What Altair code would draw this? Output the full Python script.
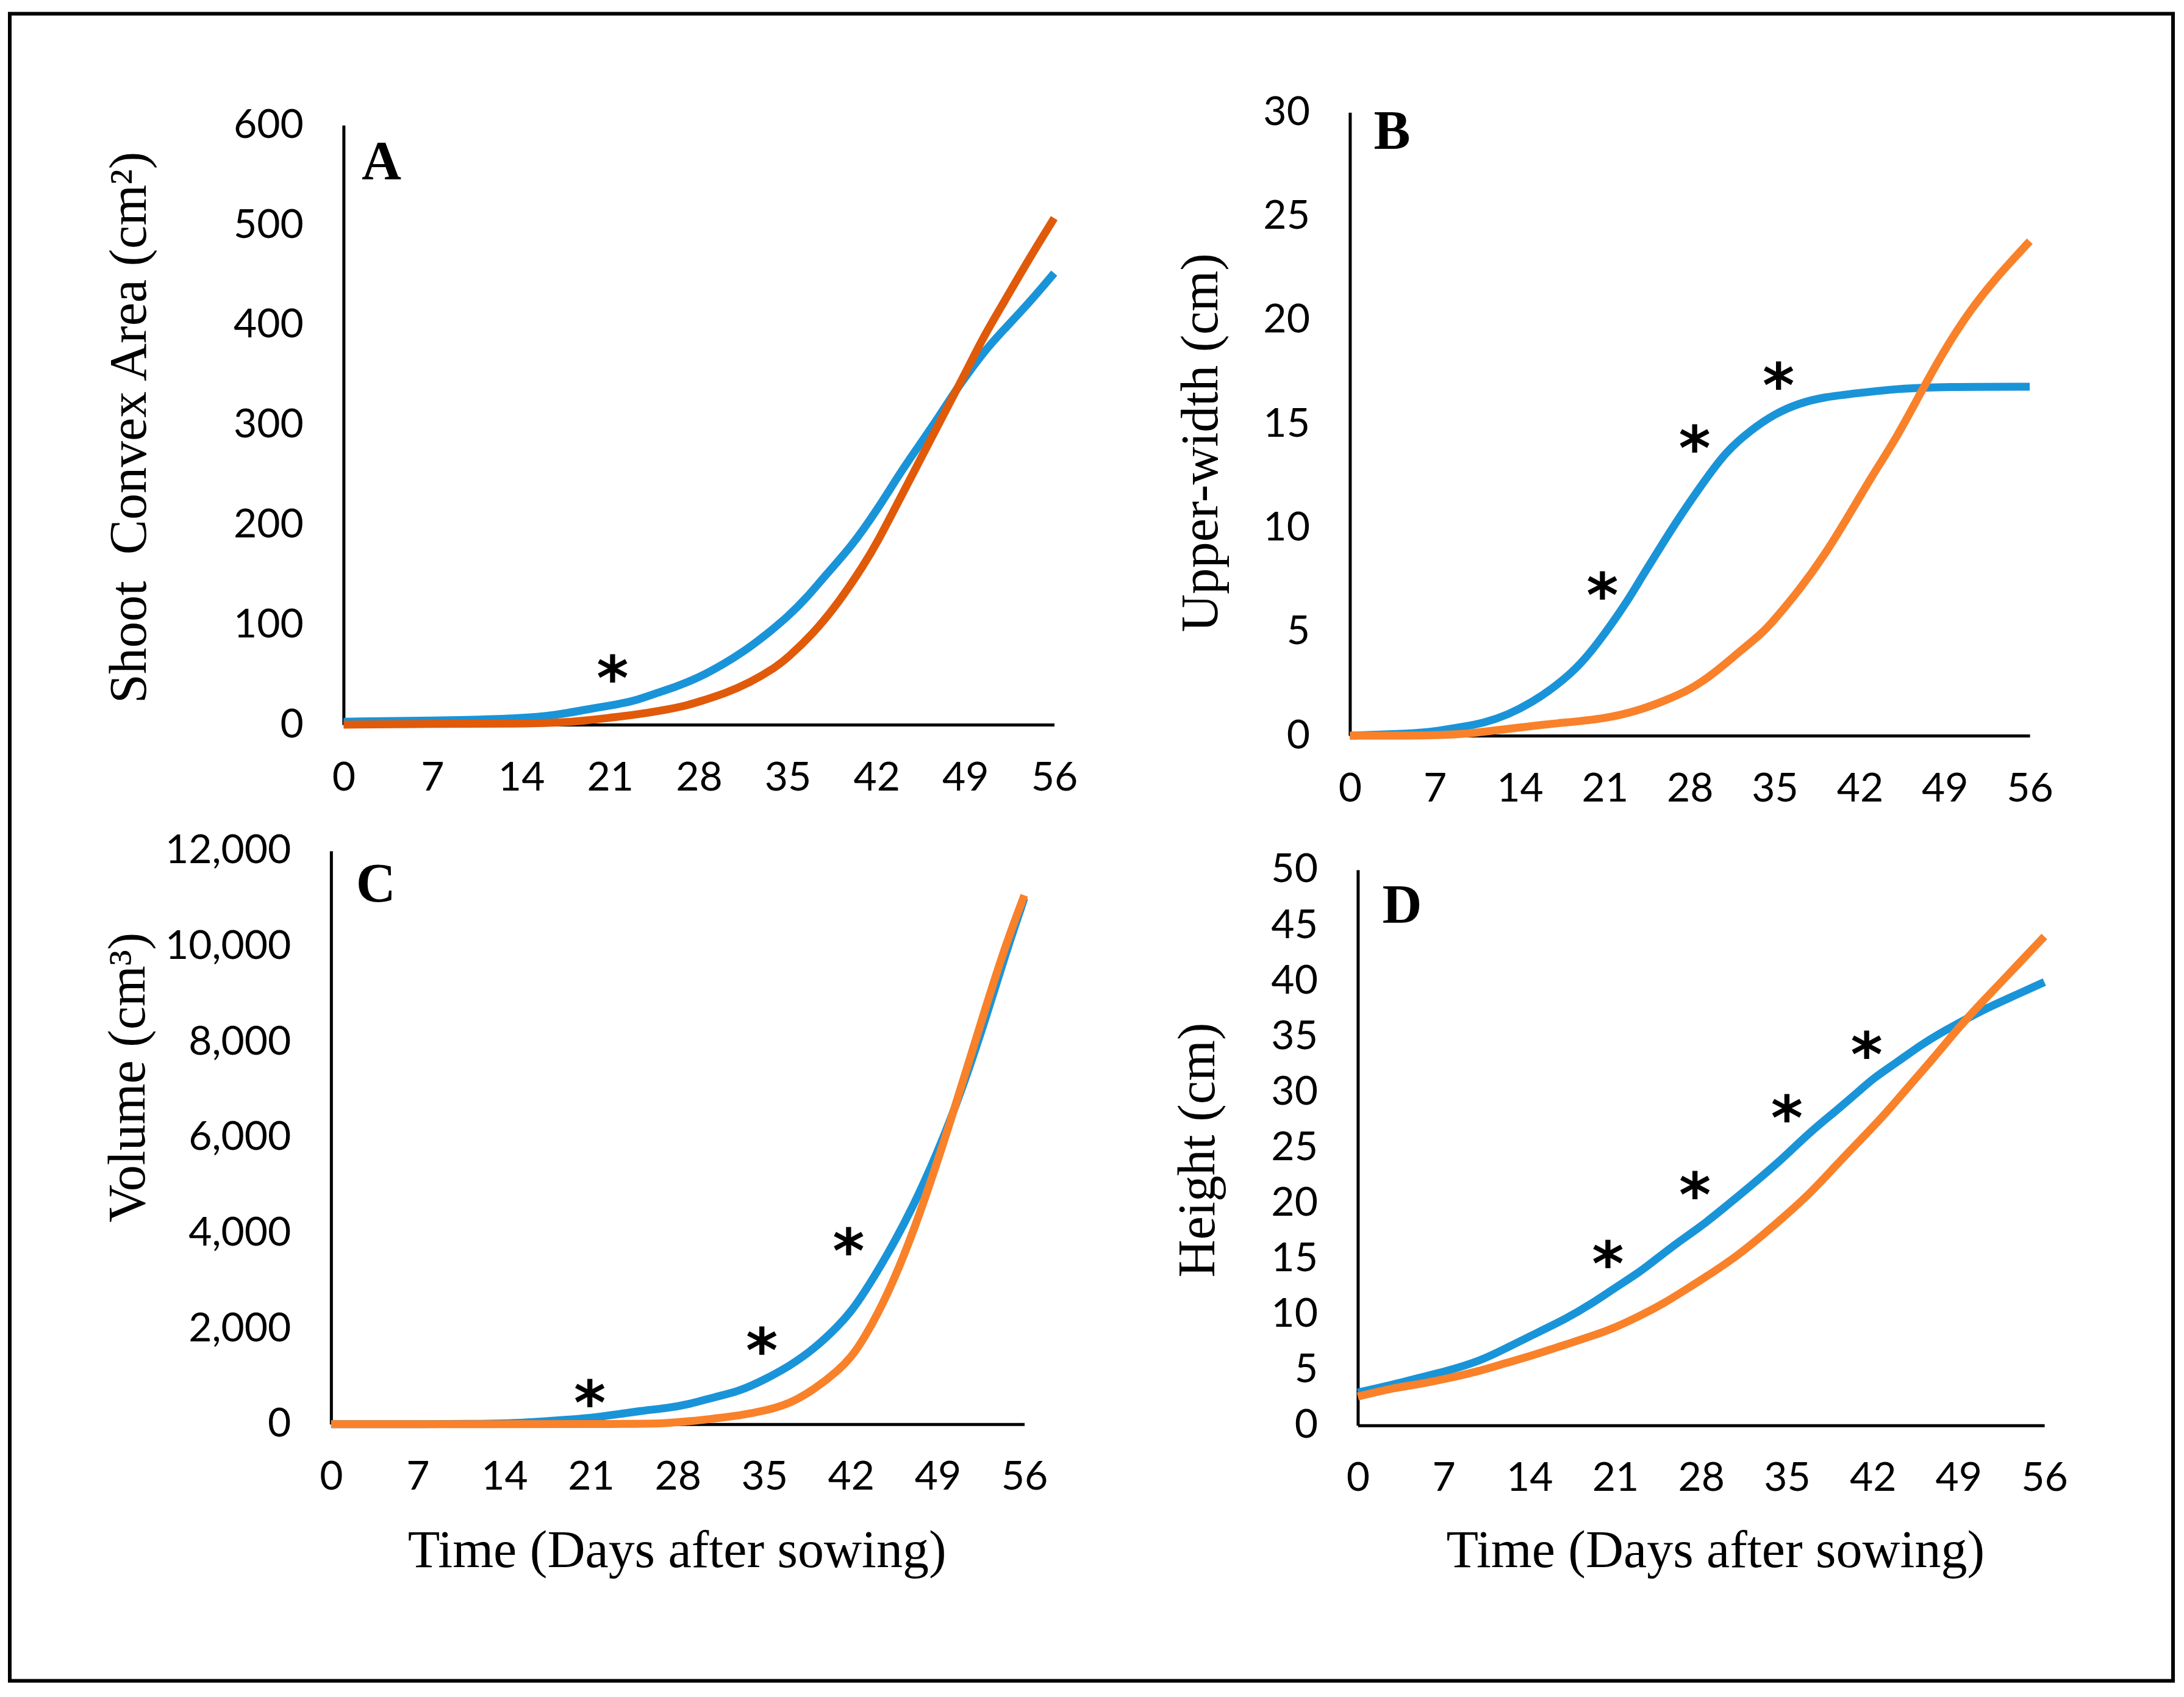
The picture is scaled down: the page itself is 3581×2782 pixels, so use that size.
import altair as alt
import pandas as pd

# ---------------- data ----------------
x_ticks = [0, 7, 14, 21, 28, 35, 42, 49, 56]

# Panel A: Shoot Convex Area (cm2)
A_blue_days = [0, 7, 14, 17, 19, 21, 23, 24.5, 26, 28, 30, 31.5, 33, 35, 36.5, 38, 40, 42, 44, 45.5, 47, 48, 49, 50.5, 52, 54, 56]
A_blue_vals = [3, 4, 6, 10, 15, 19, 24, 31, 37, 47, 61, 73, 87, 108, 127, 150, 178, 214, 255, 282, 310, 330, 348, 374, 395, 422, 452]
A_orange_days = [0, 7, 14, 17, 19, 21, 23, 25, 27, 28, 30, 32, 34, 35, 37, 39, 41, 42, 44, 46, 48, 49, 50.5, 52, 54, 56]
A_orange_vals = [0, 1, 1, 2, 4, 7, 10, 14, 19, 23, 31, 42, 57, 67, 91, 122, 160, 181, 230, 279, 328, 352, 390, 422, 466, 507]
A_y_ticks = [0, 100, 200, 300, 400, 500, 600]
A_star_days = [21.2]
A_star_vals = [58]

# Panel B: Upper-width (cm)
B_blue_days = [0, 5, 7, 9, 11, 13, 15, 17, 19, 21, 23, 24, 25.5, 27, 29, 31, 33, 35, 37, 39, 42, 45, 49, 56]
B_blue_vals = [0, 0.1, 0.2, 0.4, 0.6, 1.0, 1.6, 2.4, 3.4, 4.9, 6.6, 7.6, 9.0, 10.4, 12.1, 13.7, 14.7, 15.5, 16.0, 16.3, 16.5, 16.7, 16.8, 16.8]
B_orange_days = [0, 7, 10, 14, 17, 21, 24, 26, 28, 30, 32, 34, 35, 37, 39, 41, 43, 45, 47, 49, 51, 53, 56]
B_orange_vals = [0, 0, 0.1, 0.4, 0.6, 0.8, 1.25, 1.7, 2.2, 3.0, 4.0, 4.95, 5.6, 7.0, 8.6, 10.5, 12.5, 14.3, 16.5, 18.6, 20.4, 21.9, 23.8]
B_y_ticks = [0, 5, 10, 15, 20, 25, 30]
B_star_days = [20.8, 28.4, 35.3]
B_star_vals = [7.3, 14.4, 17.4]

# Panel C: Volume (cm3)
C_blue_days = [0, 14, 16, 19, 21, 23, 25, 27, 29, 31, 33, 35, 37, 39, 41, 42, 43, 45, 47, 49, 51, 53, 54.5, 56]
C_blue_vals = [0, 0, 40, 90, 130, 200, 280, 330, 420, 570, 690, 930, 1210, 1570, 2060, 2360, 2720, 3570, 4540, 5690, 7020, 8590, 9860, 11010]
C_orange_days = [0, 25, 27, 29, 31, 33, 35, 37, 39, 41, 42, 43, 45, 47, 49, 51, 53, 54.5, 56]
C_orange_vals = [0, 0, 20, 60, 120, 180, 280, 420, 720, 1130, 1400, 1760, 2720, 3990, 5500, 7140, 8830, 10040, 11070]
C_y_ticks = [0, 2000, 4000, 6000, 8000, 10000, 12000]
C_star_days = [20.9, 34.8, 41.8]
C_star_vals = [680, 1780, 3860]

# Panel D: Height (cm)
D_blue_days = [0, 3, 5, 7, 10, 12, 14, 17, 19, 21, 23, 24.5, 26, 28, 30, 32, 34, 35, 37, 39, 41, 42, 44, 46, 47.5, 49, 51, 53, 56]
D_blue_vals = [2.96, 3.7, 4.3, 4.8, 5.8, 6.9, 8.0, 9.6, 10.9, 12.4, 13.8, 15.1, 16.4, 17.9, 19.7, 21.5, 23.4, 24.4, 26.5, 28.3, 30.2, 31.2, 32.7, 34.3, 35.3, 36.2, 37.4, 38.4, 39.9]
D_orange_days = [0, 3, 5, 7, 10, 12, 14, 17, 19, 21, 23, 25, 27, 29, 31, 33, 35, 37, 39, 41, 43, 45, 47, 49, 51, 53, 56]
D_orange_vals = [2.6, 3.4, 3.7, 4.15, 4.9, 5.6, 6.2, 7.3, 8.0, 8.8, 9.85, 11.0, 12.4, 13.8, 15.3, 17.1, 19.0, 21.0, 23.4, 25.7, 28.0, 30.6, 33.1, 35.8, 38.2, 40.5, 44.0]
D_y_ticks = [0, 5, 10, 15, 20, 25, 30, 35, 40, 45, 50]
D_star_days = [20.4, 27.5, 35.0, 41.5]
D_star_vals = [15.6, 21.8, 28.7, 34.4]

panel_letters = ["A", "B", "C", "D"]
letter_days = [1.42, 1.96, 2.02, 1.99]
letter_vals = [546, 28.24, 10938, 45.2]

y_titles = ["Shoot\u00a0 Convex Area (cm\u00b2)", "Upper-width (cm)", "Volume (cm\u00b3)", "Height (cm)"]
x_title = "Time (Days after sowing)"

# ---------------- styling / layout ----------------
BLUE = "#1A94D8"
ORANGE_A = "#E05A0A"
ORANGE = "#F9812A"
VIEW_W, VIEW_H = 3548, 2734

TICK_FONT = "Lato"
SERIF = "Liberation Serif"


def panel(blue_d, blue_v, or_d, or_v, ymax, yticks, star_d, star_v, letter, l_day, l_val,
          ytitle, xrange, yrange, orange_col, ytitle_x, ytitle_y, xtitle=None,
          xtitle_x=0, xtitle_y=0, yfmt=None):
    df = pd.DataFrame({
        "day": blue_d + or_d,
        "value": blue_v + or_v,
        "series": ["blue"] * len(blue_d) + ["orange"] * len(or_d),
    })
    stars = pd.DataFrame({"day": star_d, "value": star_v, "t": ["*"] * len(star_d)})
    lab = pd.DataFrame({"day": [l_day], "value": [l_val], "t": [letter]})

    xaxis_kw = dict(values=x_ticks, orient="bottom", offset=yrange[0] - VIEW_H, grid=False,
                    ticks=False, domainColor="black", domainWidth=5, labelFont=TICK_FONT,
                    labelFontSize=66, labelColor="black", labelPadding=55, labelFlush=False,
                    labelOverlap=False, labelLimit=0, format="d")
    if xtitle is not None:
        xaxis_kw.update(title=xtitle, titleFont=SERIF, titleFontSize=86, titleFontWeight="normal",
                        titleColor="black", titleX=xtitle_x, titleY=xtitle_y,
                        titleBaseline="alphabetic", titleAlign="center", titleLimit=0)
    else:
        xaxis_kw.update(title=None)

    yaxis_kw = dict(values=yticks, orient="left", offset=-xrange[0], grid=False, ticks=False,
                    domainColor="black", domainWidth=5, labelFont=TICK_FONT, labelFontSize=66,
                    labelColor="black", labelPadding=66, labelOverlap=False, labelLimit=0,
                    title=ytitle, titleFont=SERIF, titleFontSize=86, titleFontWeight="normal",
                    titleColor="black", titleX=ytitle_x, titleY=ytitle_y,
                    titleBaseline="alphabetic", titleAngle=270, titleAlign="center", titleLimit=0)
    if yfmt:
        yaxis_kw.update(format=yfmt)

    x = alt.X("day:Q", scale=alt.Scale(domain=[0, 56], range=list(xrange), nice=False, zero=False),
              axis=alt.Axis(**xaxis_kw))
    y = alt.Y("value:Q", scale=alt.Scale(domain=[0, ymax], range=list(yrange), nice=False),
              axis=alt.Axis(**yaxis_kw))

    lines = alt.Chart(df).mark_line(strokeWidth=13, interpolate="basis").encode(
        x=x, y=y,
        color=alt.Color("series:N", scale=alt.Scale(domain=["blue", "orange"], range=[BLUE, orange_col]),
                        legend=None),
    )
    st = alt.Chart(stars).mark_text(font="DejaVu Sans", fontSize=100, fontWeight="bold",
                                    color="black", baseline="alphabetic", dy=54).encode(
        x=x, y=y, text="t:N")
    lt = alt.Chart(lab).mark_text(font=SERIF, fontSize=90, fontWeight="bold", color="black",
                                  align="left", baseline="alphabetic").encode(
        x=x, y=y, text="t:N")
    return alt.layer(lines, st, lt)


pA = panel(A_blue_days, A_blue_vals, A_orange_days, A_orange_vals, 600, A_y_ticks,
           A_star_days, A_star_vals, panel_letters[0], letter_days[0], letter_vals[0],
           y_titles[0], (547.5, 1713), (1166, 183), ORANGE_A, -324.5, 678)
pB = panel(B_blue_days, B_blue_vals, B_orange_days, B_orange_vals, 30, B_y_ticks,
           B_star_days, B_star_vals, panel_letters[1], letter_days[1], letter_vals[1],
           y_titles[1], (2198, 3313), (1184, 162), ORANGE, -218, 703)
pC = panel(C_blue_days, C_blue_vals, C_orange_days, C_orange_vals, 12000, C_y_ticks,
           C_star_days, C_star_vals, panel_letters[2], letter_days[2], letter_vals[2],
           y_titles[2], (527, 1664), (2313, 1373), ORANGE, -306, 1744,
           xtitle=x_title, xtitle_x=1094, xtitle_y=234, yfmt=",d")
pD = panel(D_blue_days, D_blue_vals, D_orange_days, D_orange_vals, 50, D_y_ticks,
           D_star_days, D_star_vals, panel_letters[3], letter_days[3], letter_vals[3],
           y_titles[3], (2211, 3337), (2315, 1404), ORANGE, -236, 1863,
           xtitle=x_title, xtitle_x=2797, xtitle_y=232)

chart = alt.layer(pA, pB, pC, pD).resolve_scale(
    x="independent", y="independent", color="independent"
).resolve_axis(
    x="independent", y="independent"
).properties(
    width=VIEW_W, height=VIEW_H,
    padding={"left": 8, "top": 14, "right": 10, "bottom": 10},
    background="white",
).configure_view(stroke="black", strokeWidth=6)

chart.save("out.html", embed_options={"renderer": "svg", "actions": False})
